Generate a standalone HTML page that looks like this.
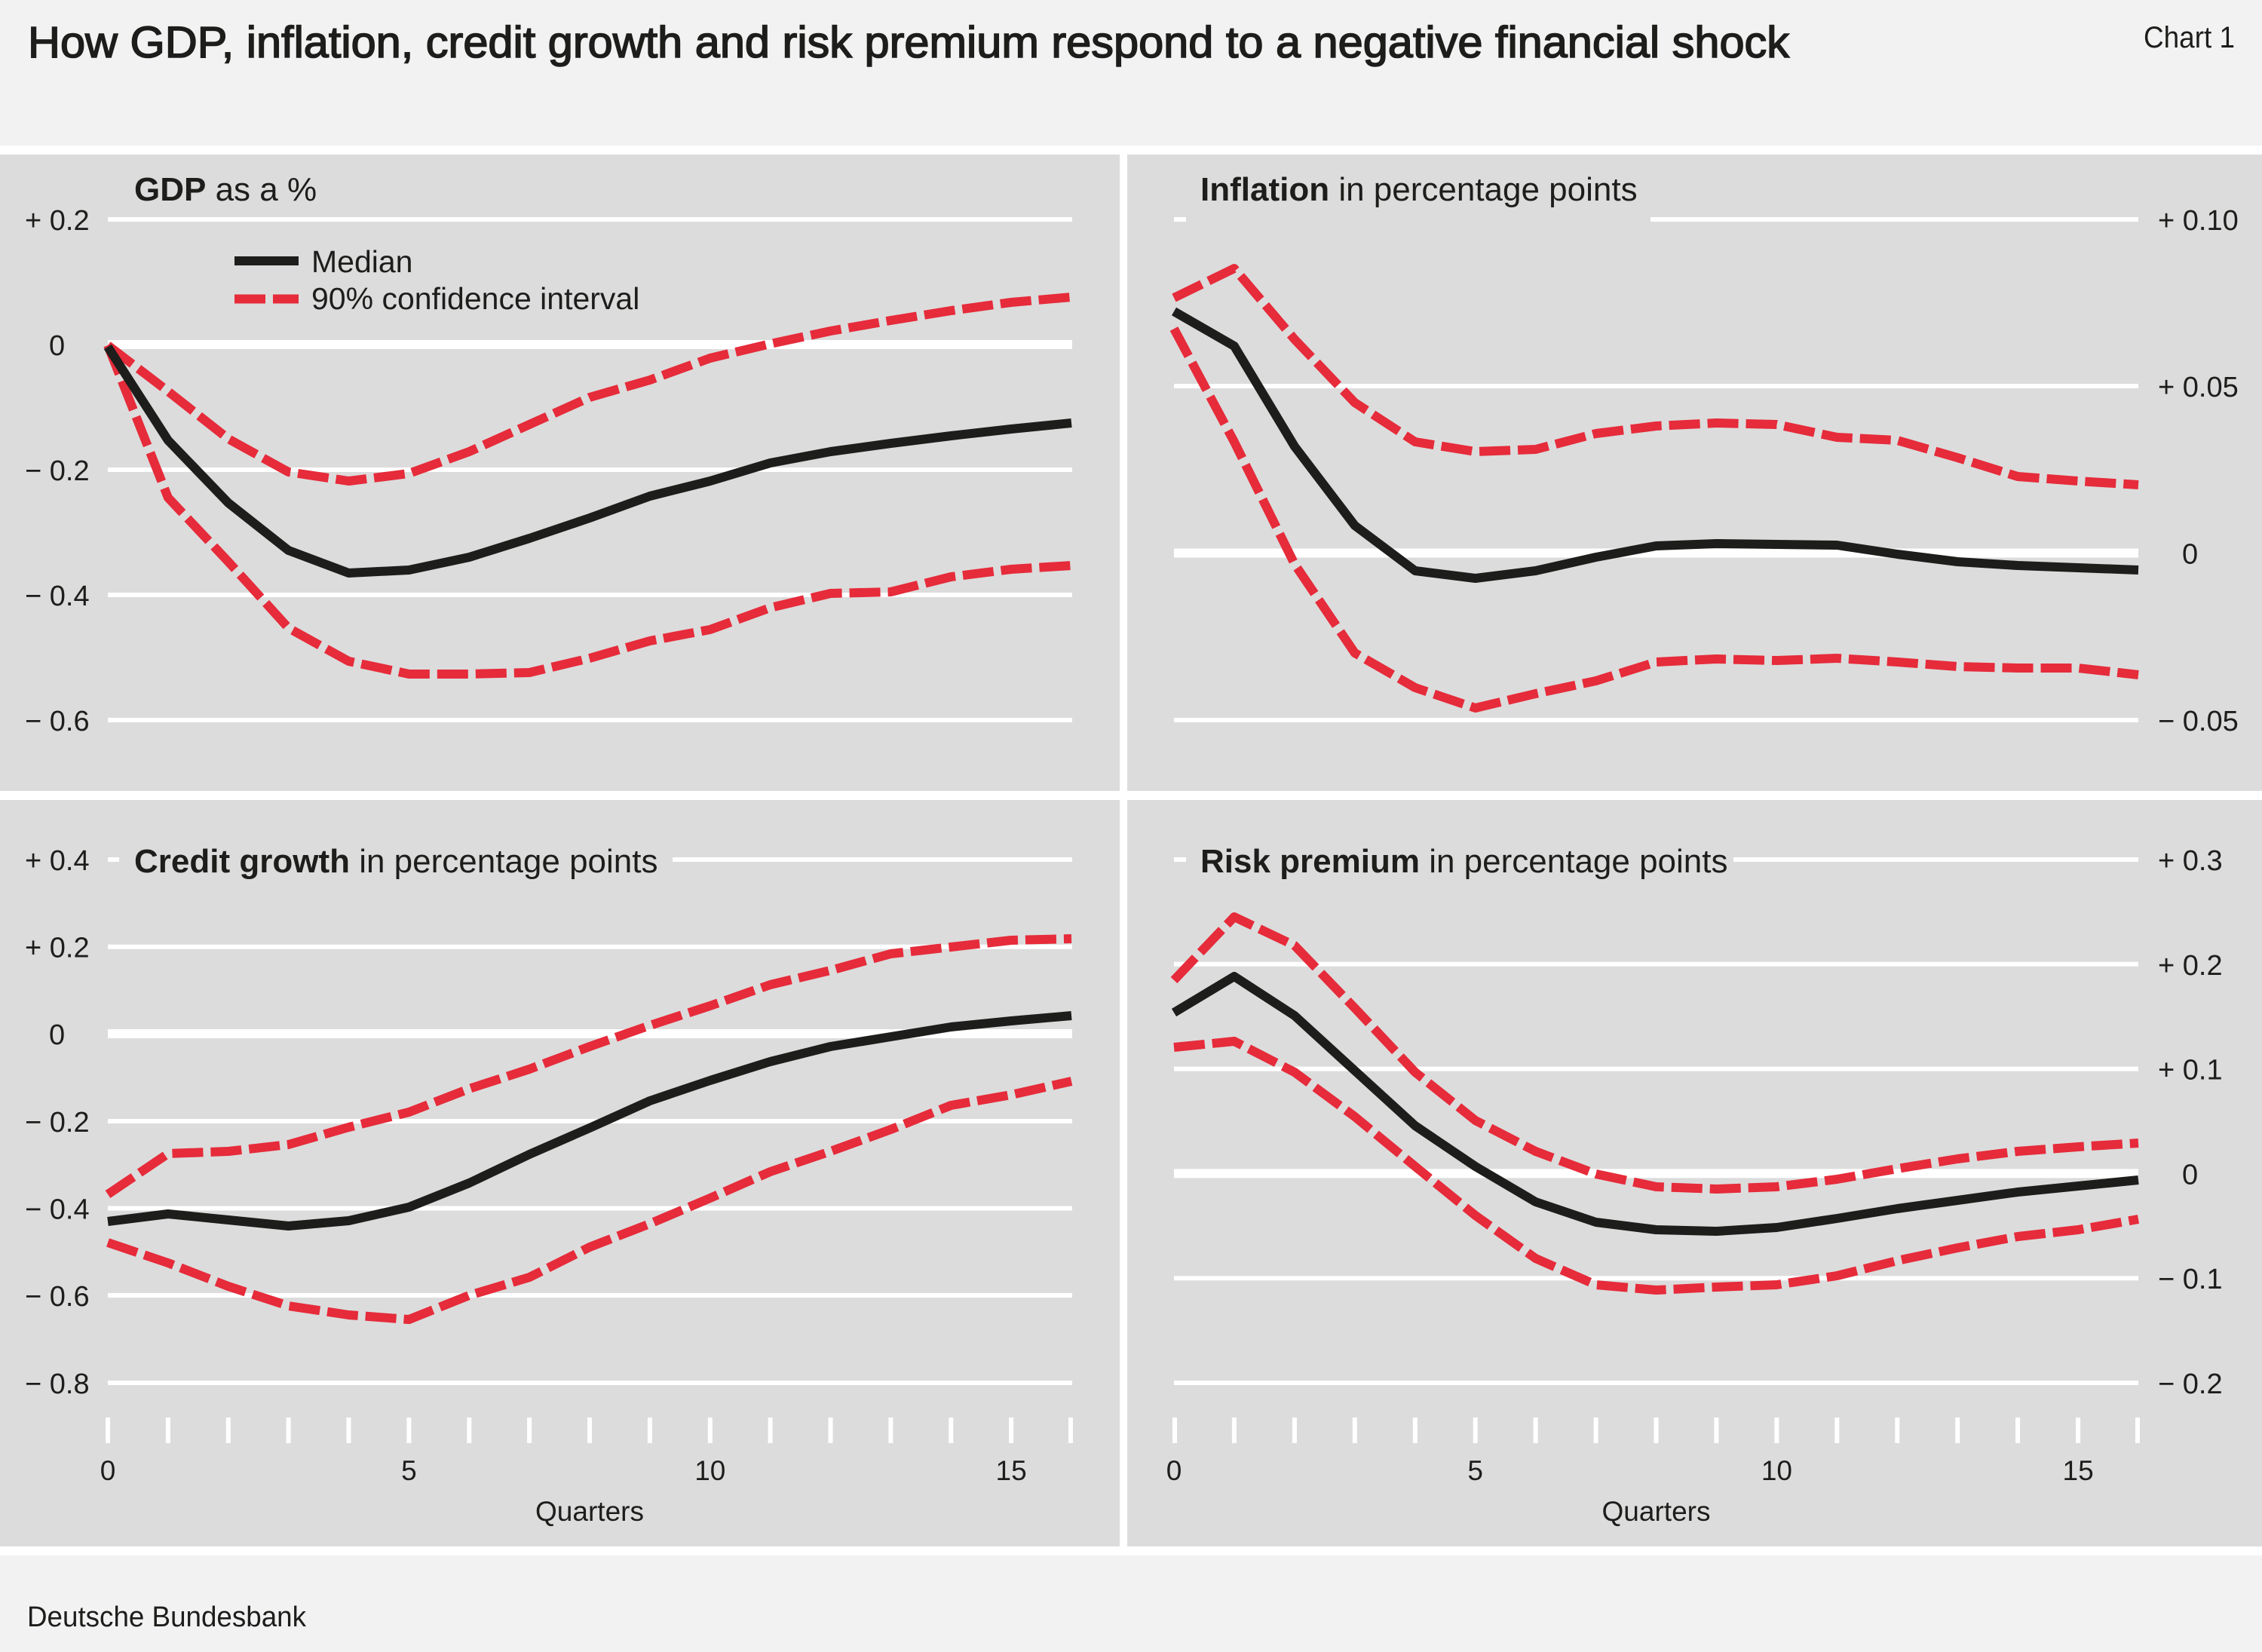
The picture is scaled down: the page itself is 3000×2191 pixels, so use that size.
<!DOCTYPE html>
<html>
<head>
<meta charset="utf-8">
<style>
  html, body { margin: 0; padding: 0; background: #ffffff; }
  svg { display: block; }
  text { font-family: "Liberation Sans", "DejaVu Sans", sans-serif; fill: #1d1d1b; }
</style>
</head>
<body>
<svg width="3000" height="2191" viewBox="0 0 3000 2191" xmlns="http://www.w3.org/2000/svg">
  <!-- backgrounds -->
  <rect x="0" y="0" width="3000" height="2191" fill="#ffffff"/>
  <rect x="0" y="0" width="3000" height="193" fill="#f2f2f2"/>
  <rect x="0" y="205" width="1485" height="844" fill="#dcdcdc"/>
  <rect x="1495" y="205" width="1505" height="844" fill="#dcdcdc"/>
  <rect x="0" y="1061" width="1485" height="990" fill="#dcdcdc"/>
  <rect x="1495" y="1061" width="1505" height="990" fill="#dcdcdc"/>
  <rect x="0" y="2063" width="3000" height="128" fill="#f2f2f2"/>

  <!-- header -->
  <text x="37" y="76" font-size="58" textLength="2336" lengthAdjust="spacingAndGlyphs" stroke="#1d1d1b" stroke-width="1.6">How GDP, inflation, credit growth and risk premium respond to a negative financial shock</text>
  <text x="2843" y="63" font-size="40" textLength="121" lengthAdjust="spacingAndGlyphs">Chart 1</text>

  <!-- footer -->
  <text x="36" y="2157" font-size="38" textLength="370" lengthAdjust="spacingAndGlyphs">Deutsche Bundesbank</text>

  <g stroke="#ffffff" fill="none">
    <!-- GDP gridlines -->
    <line x1="143" y1="291" x2="1422" y2="291" stroke-width="6"/>
    <line x1="143" y1="457" x2="1422" y2="457" stroke-width="12"/>
    <line x1="143" y1="623" x2="1422" y2="623" stroke-width="6"/>
    <line x1="143" y1="789" x2="1422" y2="789" stroke-width="6"/>
    <line x1="143" y1="955" x2="1422" y2="955" stroke-width="6"/>

    <!-- Inflation gridlines -->
    <line x1="1557" y1="291" x2="1573" y2="291" stroke-width="6"/>
    <line x1="2189" y1="291" x2="2836" y2="291" stroke-width="6"/>
    <line x1="1557" y1="512" x2="2836" y2="512" stroke-width="6"/>
    <line x1="1557" y1="733.5" x2="2836" y2="733.5" stroke-width="12"/>
    <line x1="1557" y1="955" x2="2836" y2="955" stroke-width="6"/>

    <!-- Credit gridlines -->
    <line x1="143" y1="1140" x2="158" y2="1140" stroke-width="6"/>
    <line x1="892" y1="1140" x2="1422" y2="1140" stroke-width="6"/>
    <line x1="143" y1="1255.7" x2="1422" y2="1255.7" stroke-width="6"/>
    <line x1="143" y1="1371" x2="1422" y2="1371" stroke-width="12"/>
    <line x1="143" y1="1487" x2="1422" y2="1487" stroke-width="6"/>
    <line x1="143" y1="1602.5" x2="1422" y2="1602.5" stroke-width="6"/>
    <line x1="143" y1="1718" x2="1422" y2="1718" stroke-width="6"/>
    <line x1="143" y1="1834" x2="1422" y2="1834" stroke-width="6"/>

    <!-- Risk gridlines -->
    <line x1="1557" y1="1140" x2="1573" y2="1140" stroke-width="6"/>
    <line x1="2299" y1="1140" x2="2836" y2="1140" stroke-width="6"/>
    <line x1="1557" y1="1278.8" x2="2836" y2="1278.8" stroke-width="6"/>
    <line x1="1557" y1="1417.6" x2="2836" y2="1417.6" stroke-width="6"/>
    <line x1="1557" y1="1556.4" x2="2836" y2="1556.4" stroke-width="12"/>
    <line x1="1557" y1="1695.2" x2="2836" y2="1695.2" stroke-width="6"/>
    <line x1="1557" y1="1834" x2="2836" y2="1834" stroke-width="6"/>

    <!-- x ticks left -->
    <g stroke-width="6">
      <line x1="143" y1="1880" x2="143" y2="1914"/>
      <line x1="222.9" y1="1880" x2="222.9" y2="1914"/>
      <line x1="302.8" y1="1880" x2="302.8" y2="1914"/>
      <line x1="382.6" y1="1880" x2="382.6" y2="1914"/>
      <line x1="462.5" y1="1880" x2="462.5" y2="1914"/>
      <line x1="542.4" y1="1880" x2="542.4" y2="1914"/>
      <line x1="622.3" y1="1880" x2="622.3" y2="1914"/>
      <line x1="702.1" y1="1880" x2="702.1" y2="1914"/>
      <line x1="782" y1="1880" x2="782" y2="1914"/>
      <line x1="861.9" y1="1880" x2="861.9" y2="1914"/>
      <line x1="941.8" y1="1880" x2="941.8" y2="1914"/>
      <line x1="1021.6" y1="1880" x2="1021.6" y2="1914"/>
      <line x1="1101.5" y1="1880" x2="1101.5" y2="1914"/>
      <line x1="1181.4" y1="1880" x2="1181.4" y2="1914"/>
      <line x1="1261.3" y1="1880" x2="1261.3" y2="1914"/>
      <line x1="1341.1" y1="1880" x2="1341.1" y2="1914"/>
      <line x1="1420" y1="1880" x2="1420" y2="1914"/>
      <!-- x ticks right -->
      <line x1="1558" y1="1880" x2="1558" y2="1914"/>
      <line x1="1636.9" y1="1880" x2="1636.9" y2="1914"/>
      <line x1="1716.9" y1="1880" x2="1716.9" y2="1914"/>
      <line x1="1796.8" y1="1880" x2="1796.8" y2="1914"/>
      <line x1="1876.8" y1="1880" x2="1876.8" y2="1914"/>
      <line x1="1956.7" y1="1880" x2="1956.7" y2="1914"/>
      <line x1="2036.6" y1="1880" x2="2036.6" y2="1914"/>
      <line x1="2116.6" y1="1880" x2="2116.6" y2="1914"/>
      <line x1="2196.5" y1="1880" x2="2196.5" y2="1914"/>
      <line x1="2276.4" y1="1880" x2="2276.4" y2="1914"/>
      <line x1="2356.4" y1="1880" x2="2356.4" y2="1914"/>
      <line x1="2436.3" y1="1880" x2="2436.3" y2="1914"/>
      <line x1="2516.3" y1="1880" x2="2516.3" y2="1914"/>
      <line x1="2596.2" y1="1880" x2="2596.2" y2="1914"/>
      <line x1="2676.1" y1="1880" x2="2676.1" y2="1914"/>
      <line x1="2756.1" y1="1880" x2="2756.1" y2="1914"/>
      <line x1="2835" y1="1880" x2="2835" y2="1914"/>
    </g>
  </g>

  <!-- Panel titles -->
  <text x="178" y="266" font-size="44"><tspan font-weight="bold">GDP</tspan> as a %</text>
  <text x="1592" y="266" font-size="44"><tspan font-weight="bold">Inflation</tspan> in percentage points</text>
  <text x="178" y="1157" font-size="44"><tspan font-weight="bold">Credit growth</tspan> in percentage points</text>
  <text x="1592" y="1157" font-size="44"><tspan font-weight="bold">Risk premium</tspan> in percentage points</text>

  <!-- GDP y labels -->
  <g font-size="38">
    <text x="33" y="305">+ 0.2</text>
    <text x="65" y="471">0</text>
    <text x="33" y="637">− 0.2</text>
    <text x="33" y="803">− 0.4</text>
    <text x="33" y="969">− 0.6</text>

    <!-- Inflation y labels -->
    <text x="2862" y="305">+ 0.10</text>
    <text x="2862" y="526">+ 0.05</text>
    <text x="2894" y="747.5">0</text>
    <text x="2862" y="969">− 0.05</text>

    <!-- Credit y labels -->
    <text x="33" y="1154">+ 0.4</text>
    <text x="33" y="1269.7">+ 0.2</text>
    <text x="65" y="1385">0</text>
    <text x="33" y="1501">− 0.2</text>
    <text x="33" y="1616.5">− 0.4</text>
    <text x="33" y="1732">− 0.6</text>
    <text x="33" y="1848">− 0.8</text>

    <!-- Risk y labels -->
    <text x="2862" y="1154">+ 0.3</text>
    <text x="2862" y="1292.8">+ 0.2</text>
    <text x="2862" y="1431.6">+ 0.1</text>
    <text x="2894" y="1570.4">0</text>
    <text x="2862" y="1709.2">− 0.1</text>
    <text x="2862" y="1848">− 0.2</text>
  </g>

  <!-- x labels -->
  <g font-size="37" text-anchor="middle">
    <text x="143" y="1963">0</text>
    <text x="542.4" y="1963">5</text>
    <text x="941.8" y="1963">10</text>
    <text x="1341.1" y="1963">15</text>
    <text x="1557" y="1963">0</text>
    <text x="1956.7" y="1963">5</text>
    <text x="2356.4" y="1963">10</text>
    <text x="2756.1" y="1963">15</text>
    <text x="782" y="2017">Quarters</text>
    <text x="2196.5" y="2017">Quarters</text>
  </g>

  <!-- Legend -->
  <line x1="311" y1="346" x2="396" y2="346" stroke="#1d1d1b" stroke-width="12"/>
  <line x1="311" y1="396.5" x2="396" y2="396.5" stroke="#e62b3a" stroke-width="12" stroke-dasharray="41 10"/>
  <text x="413" y="361" font-size="41">Median</text>
  <text x="413" y="410" font-size="41">90% confidence interval</text>

  <!-- Series -->
  <g fill="none" stroke-linejoin="round">
    <!-- GDP -->
    <polyline stroke="#e62b3a" stroke-width="12" stroke-dasharray="41 10"
      points="143,458 222.9,519 302.8,582 382.6,626 462.5,638 542.4,628 622.3,599 702.1,563 782,527 861.9,504 941.8,475 1021.6,456 1101.5,439 1181.4,425 1261.3,412 1341.1,401 1421,394"/>
    <polyline stroke="#e62b3a" stroke-width="12" stroke-dasharray="41 10"
      points="143,458 222.9,660 302.8,745 382.6,833 462.5,877 542.4,894 622.3,894 702.1,892 782,873 861.9,850 941.8,835 1021.6,806 1101.5,787 1181.4,785 1261.3,765 1341.1,755 1421,750"/>
    <polyline stroke="#1d1d1b" stroke-width="12"
      points="143,460 222.9,584 302.8,667 382.6,730 462.5,760 542.4,756 622.3,739 702.1,714 782,687 861.9,658 941.8,638 1021.6,614 1101.5,599 1181.4,588 1261.3,578 1341.1,569 1421,561"/>

    <!-- Inflation -->
    <polyline stroke="#e62b3a" stroke-width="12" stroke-dasharray="41 10"
      points="1557,395 1636.9,356 1716.9,450 1796.8,534 1876.8,586 1956.7,599 2036.6,596 2116.6,575 2196.5,565 2276.4,561 2356.4,563 2436.3,580 2516.3,584 2596.2,607 2676.1,632 2756.1,638 2836,643"/>
    <polyline stroke="#e62b3a" stroke-width="12" stroke-dasharray="41 10"
      points="1557,436 1636.9,586 1716.9,748 1796.8,866 1876.8,912 1956.7,939 2036.6,920 2116.6,903 2196.5,878 2276.4,874 2356.4,876 2436.3,873 2516.3,878 2596.2,884 2676.1,886 2756.1,886 2836,895"/>
    <polyline stroke="#1d1d1b" stroke-width="12"
      points="1557,413 1636.9,459 1716.9,592 1796.8,697 1876.8,757 1956.7,767 2036.6,757 2116.6,739 2196.5,724 2276.4,721 2356.4,722 2436.3,723 2516.3,735 2596.2,745 2676.1,750 2756.1,753 2836,756"/>

    <!-- Credit -->
    <polyline stroke="#e62b3a" stroke-width="12" stroke-dasharray="41 10"
      points="143,1584 222.9,1530 302.8,1527 382.6,1518 462.5,1495 542.4,1475 622.3,1444 702.1,1418 782,1388 861.9,1360 941.8,1334 1021.6,1306 1101.5,1287 1181.4,1265 1261.3,1256 1341.1,1247 1421,1245"/>
    <polyline stroke="#e62b3a" stroke-width="12" stroke-dasharray="41 10"
      points="143,1648 222.9,1675 302.8,1706 382.6,1732 462.5,1744 542.4,1750 622.3,1718 702.1,1694 782,1654 861.9,1623 941.8,1589 1021.6,1554 1101.5,1527 1181.4,1498 1261.3,1466 1341.1,1452 1421,1434"/>
    <polyline stroke="#1d1d1b" stroke-width="12"
      points="143,1620 222.9,1610 302.8,1618 382.6,1626 462.5,1619 542.4,1601 622.3,1569 702.1,1531 782,1496 861.9,1460 941.8,1433 1021.6,1408 1101.5,1388 1181.4,1375 1261.3,1362 1341.1,1354 1421,1347"/>

    <!-- Risk premium -->
    <polyline stroke="#e62b3a" stroke-width="12" stroke-dasharray="41 10"
      points="1557,1300 1636.9,1216 1716.9,1254 1796.8,1337 1876.8,1422 1956.7,1486 2036.6,1527 2116.6,1557 2196.5,1574 2276.4,1577 2356.4,1574 2436.3,1564 2516.3,1550 2596.2,1537 2676.1,1527 2756.1,1521 2836,1516"/>
    <polyline stroke="#e62b3a" stroke-width="12" stroke-dasharray="41 10"
      points="1557,1389 1636.9,1381 1716.9,1422 1796.8,1481 1876.8,1547 1956.7,1612 2036.6,1669 2116.6,1704 2196.5,1711 2276.4,1707 2356.4,1704 2436.3,1692 2516.3,1672 2596.2,1655 2676.1,1640 2756.1,1631 2836,1617"/>
    <polyline stroke="#1d1d1b" stroke-width="12"
      points="1557,1343 1636.9,1295 1716.9,1347 1796.8,1420 1876.8,1493 1956.7,1547 2036.6,1594 2116.6,1621 2196.5,1631 2276.4,1633 2356.4,1628 2436.3,1616 2516.3,1603 2596.2,1592 2676.1,1581 2756.1,1573 2836,1565"/>
  </g>
</svg>
</body>
</html>
